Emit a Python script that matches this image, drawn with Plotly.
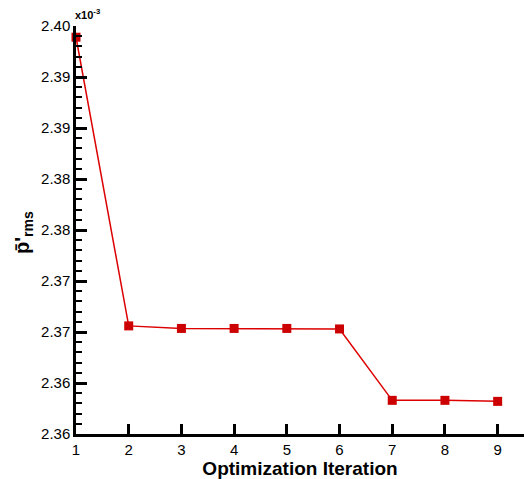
import plotly.graph_objects as go

iterations = [1, 2, 3, 4, 5, 6, 7, 8, 9]
p_rms = [2.3989, 2.3706, 2.37035, 2.37035, 2.37035, 2.3703, 2.3633, 2.3633, 2.3632]

ytick_vals = [2.360, 2.365, 2.370, 2.375, 2.380, 2.385, 2.390, 2.395, 2.400]
ytick_text = ["2.36", "2.36", "2.37", "2.37", "2.38", "2.38", "2.39", "2.39", "2.40"]
xtick_vals = [1, 2, 3, 4, 5, 6, 7, 8, 9]

font = "Liberation Sans, Arial, Helvetica, sans-serif"

fig = go.Figure()
fig.add_trace(go.Scatter(
    x=iterations, y=p_rms, mode="lines+markers",
    line=dict(color="#dd0000", width=1.5),
    marker=dict(symbol="square", size=9, color="#cc0000"),
    showlegend=False, cliponaxis=False,
))

fig.update_layout(
    width=524, height=479,
    margin=dict(l=76, r=0, t=26, b=45),
    paper_bgcolor="white", plot_bgcolor="white",
    font=dict(family=font, color="black"),
    xaxis=dict(
        range=[1, 9.5], tickvals=xtick_vals,
        showline=True, linecolor="black", linewidth=2.5,
        ticks="inside", ticklen=10, tickwidth=2.5, tickcolor="black",
        showgrid=False, zeroline=False,
        tickfont=dict(size=15),
        title=dict(text="<b>Optimization Iteration</b>", font=dict(size=19), standoff=2),
    ),
    yaxis=dict(
        range=[2.360, 2.400], tickvals=ytick_vals, ticktext=ytick_text,
        showline=True, linecolor="black", linewidth=2.5,
        ticks="inside", ticklen=11, tickwidth=2.5, tickcolor="black",
        minor=dict(ticks="inside", ticklen=6, tickwidth=1.5, tickcolor="black", dtick=0.001),
        showgrid=False, zeroline=False,
        tickfont=dict(size=15),
    ),
    annotations=[
        dict(text="<b>p\u0304'<sub>rms</sub></b>", xref="paper", yref="paper",
             x=-76/448 + 23/448, y=(479-45-232)/408, xanchor="center", yanchor="middle",
             textangle=-90, showarrow=False, font=dict(size=20)),
        dict(text="<b>x10<sup>-3</sup></b>", xref="paper", yref="paper",
             x=(87-76)/448, y=(434-14)/408, xanchor="center", yanchor="middle",
             showarrow=False, font=dict(size=11)),
    ],
)

fig.write_html("out.html", config={"displayModeBar": False},
               post_script="document.body.style.margin='0px';document.body.style.padding='0px';")
